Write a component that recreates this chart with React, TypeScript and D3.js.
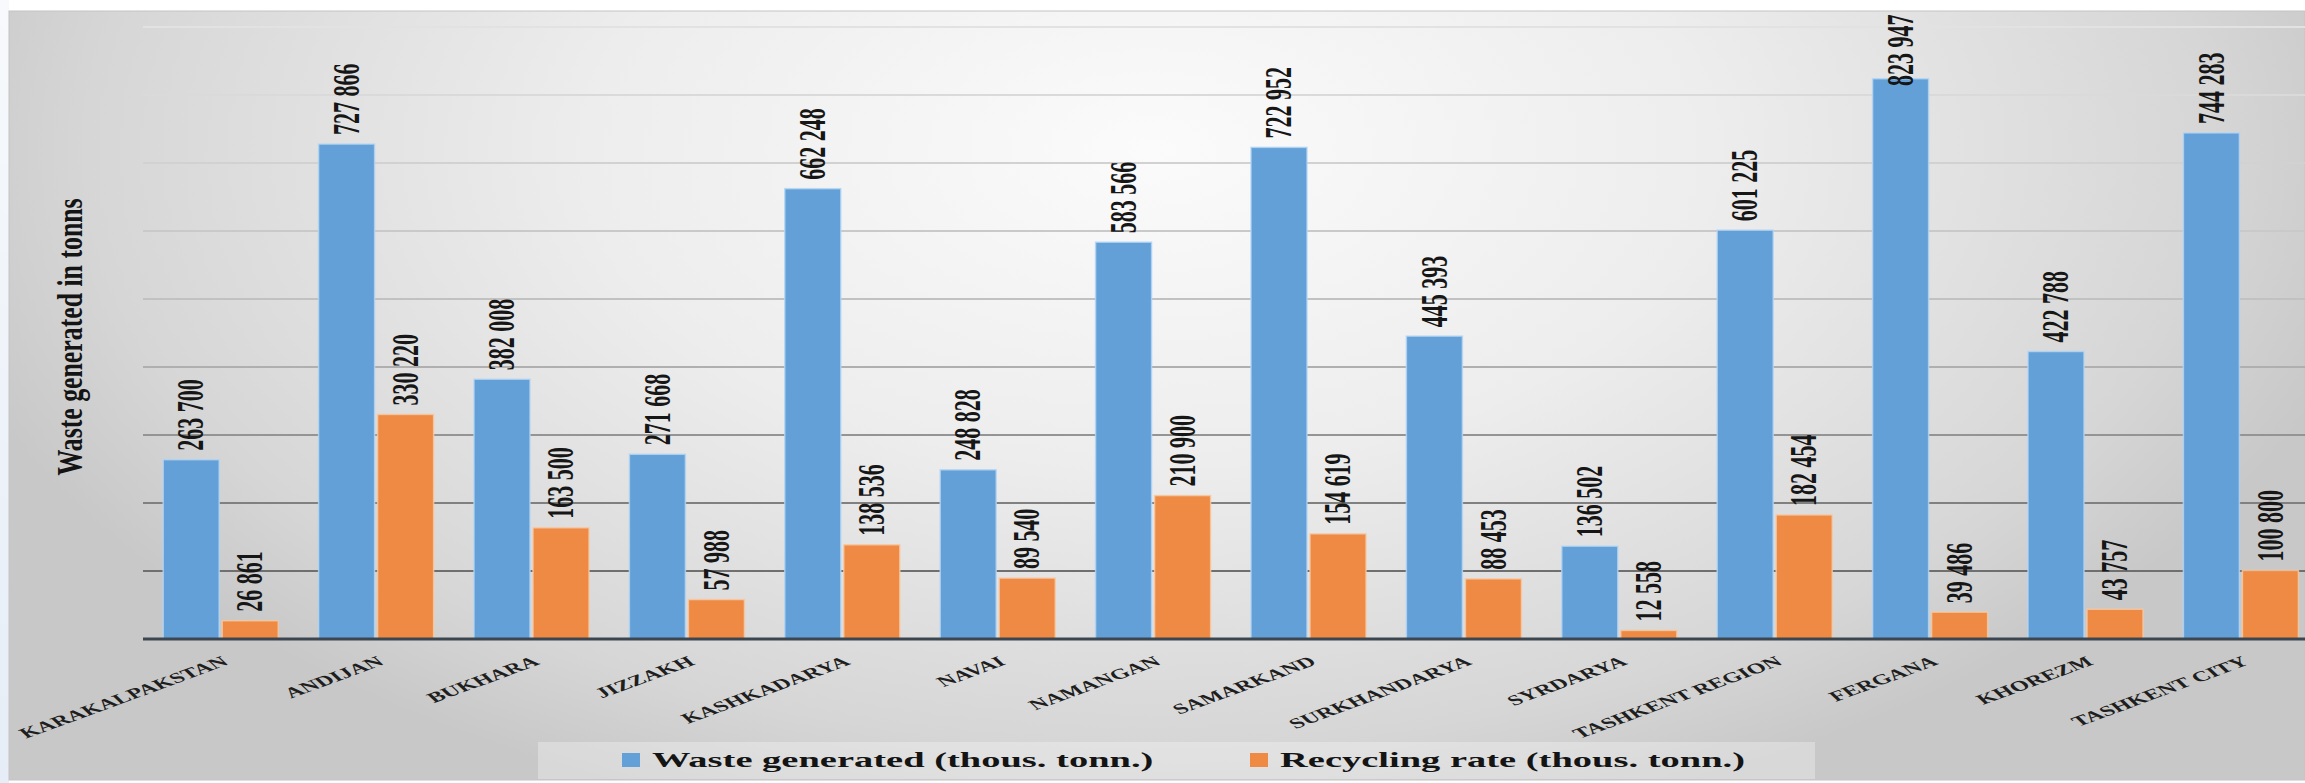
import React from 'react';
import * as d3 from 'd3';

// Regions of Uzbekistan and their waste figures (tonnes)
const regions = [
  'KARAKALPAKSTAN', 'ANDIJAN', 'BUKHARA', 'JIZZAKH', 'KASHKADARYA', 'NAVAI', 'NAMANGAN',
  'SAMARKAND', 'SURKHANDARYA', 'SYRDARYA', 'TASHKENT REGION', 'FERGANA', 'KHOREZM', 'TASHKENT CITY',
];
const wasteGenerated = [
  263700, 727866, 382008, 271668, 662248, 248828, 583566,
  722952, 445393, 136502, 601225, 823947, 422788, 744283,
];
const recyclingRate = [
  26861, 330220, 163500, 57988, 138536, 89540, 210900,
  154619, 88453, 12558, 182454, 39486, 43757, 100800,
];
const seriesKeys = ['waste', 'recycling'];
const seriesNames = ['Waste generated (thous. tonn.)', 'Recycling rate (thous. tonn.)'];
const seriesColors = ['#64a0d8', '#ee8a43'];
const seriesHalo = ['#b4d6f4', '#f8c9a4'];
const yAxisTitle = 'Waste generated in tonns';
const yMax = 900000;

const W = 2305;
const H = 783;
const STRETCH = 1.7; // horizontal stretch applied to all text
const FONT = "'Liberation Serif', 'Times New Roman', serif";

const fmt = (v: number) => d3.format(',')(v).replace(/,/g, ' ');

export default function App() {
  const plotLeft = 143;
  const step = 155.4;
  const plotTop = 27;
  const plotBottom = 639;

  const x = d3.scaleBand<string>().domain(regions).range([plotLeft, plotLeft + step * regions.length]);
  const x1 = d3.scaleBand<string>().domain(seriesKeys).range([0, x.bandwidth()])
    .paddingInner(0.051).paddingOuter(0.342);
  const y = d3.scaleLinear().domain([0, yMax]).range([plotBottom, plotTop]);
  const grid = y.ticks(9).filter((t) => t > 0);

  const series = [wasteGenerated, recyclingRate];

  return (
    <svg width={W} height={H} style={{ position: 'absolute', left: 0, top: 0, display: 'block' }}
      xmlns="http://www.w3.org/2000/svg">
      <defs>
        <radialGradient id="bg" gradientUnits="userSpaceOnUse" cx={1150} cy={150} r={1250}
          gradientTransform="translate(1150 150) scale(1 0.56) translate(-1150 -150)">
          <stop offset="0" stopColor="#fbfbfb" />
          <stop offset="0.45" stopColor="#ededed" />
          <stop offset="0.85" stopColor="#d6d6d6" />
          <stop offset="1" stopColor="#c8c8c8" />
        </radialGradient>
        <linearGradient id="gridStroke" gradientUnits="userSpaceOnUse" x1={0} y1={plotTop} x2={0} y2={plotBottom}>
          <stop offset="0" stopColor="#e2e2e2" />
          <stop offset="0.5" stopColor="#bdbdbd" />
          <stop offset="0.7" stopColor="#8c8c8c" />
          <stop offset="1" stopColor="#5e5e5e" />
        </linearGradient>
        <linearGradient id="leftStrip" x1="0" y1="0" x2="0" y2="1">
          <stop offset="0" stopColor="#f7f9fc" />
          <stop offset="1" stopColor="#e6edf6" />
        </linearGradient>
      </defs>

      <rect x={0} y={0} width={W} height={H} fill="#ffffff" />
      <rect x={0} y={0} width={9} height={H} fill="url(#leftStrip)" />
      <rect x={9} y={11} width={W - 9} height={769} fill="url(#bg)" stroke="#c4c4c4" strokeWidth={1} />

      {/* gridlines */}
      {grid.map((t) => (
        <line key={t} x1={plotLeft} x2={W} y1={y(t)} y2={y(t)} stroke="url(#gridStroke)" strokeWidth={2} />
      ))}

      {/* bars */}
      {regions.map((r, i) => (
        <g key={r}>
          {seriesKeys.map((k, s) => {
            const v = series[s][i];
            const bx = (x(r) as number) + (x1(k) as number);
            return (
              <rect key={k} x={bx} y={y(v)} width={x1.bandwidth()} height={plotBottom - y(v)}
                fill={seriesColors[s]} stroke={seriesHalo[s]} strokeWidth={1.5} strokeOpacity={0.8} />
            );
          })}
        </g>
      ))}

      {/* baseline */}
      <line x1={plotLeft} x2={W} y1={plotBottom} y2={plotBottom} stroke="#3c4650" strokeWidth={3} />

      {/* value labels */}
      {regions.map((r, i) => (
        <g key={r + '-lbl'}>
          {seriesKeys.map((k, s) => {
            const v = series[s][i];
            const cx = (x(r) as number) + (x1(k) as number) + x1.bandwidth() / 2;
            const ly = Math.max(y(v) - 9, 86);
            return (
              <text key={k} transform={`translate(${cx},${ly}) scale(${STRETCH},1) rotate(-90)`}
                dominantBaseline="central" fontFamily={FONT} fontWeight="bold" fontSize={22} fill="#161616">
                {fmt(v)}
              </text>
            );
          })}
        </g>
      ))}

      {/* category labels */}
      {regions.map((r) => {
        const cx = (x(r) as number) + x.bandwidth() / 2 + 9;
        return (
          <text key={r + '-cat'} transform={`translate(${cx},664) scale(${STRETCH},1) rotate(-32)`}
            textAnchor="end" fontFamily={FONT} fontWeight="bold" fontSize={14.5} fill="#1e1e1e">
            {r}
          </text>
        );
      })}

      {/* y axis title */}
      <text transform={`translate(70,337) scale(1.4,1) rotate(-90)`} textAnchor="middle"
        dominantBaseline="central" fontFamily={FONT} fontWeight="bold" fontSize={25.8} fill="#141414">
        {yAxisTitle}
      </text>

      {/* legend */}
      <rect x={538} y={742} width={1277} height={37} fill="#ffffff" fillOpacity={0.3} />
      {seriesNames.map((name, s) => {
        const mx = s === 0 ? 622 : 1250;
        return (
          <g key={name}>
            <rect x={mx} y={753} width={18} height={14} fill={seriesColors[s]} />
            <text transform={`translate(${mx + 30},767) scale(1.75,1)`} fontFamily={FONT}
              fontWeight="bold" fontSize={22} fill="#141414">
              {name}
            </text>
          </g>
        );
      })}
    </svg>
  );
}
